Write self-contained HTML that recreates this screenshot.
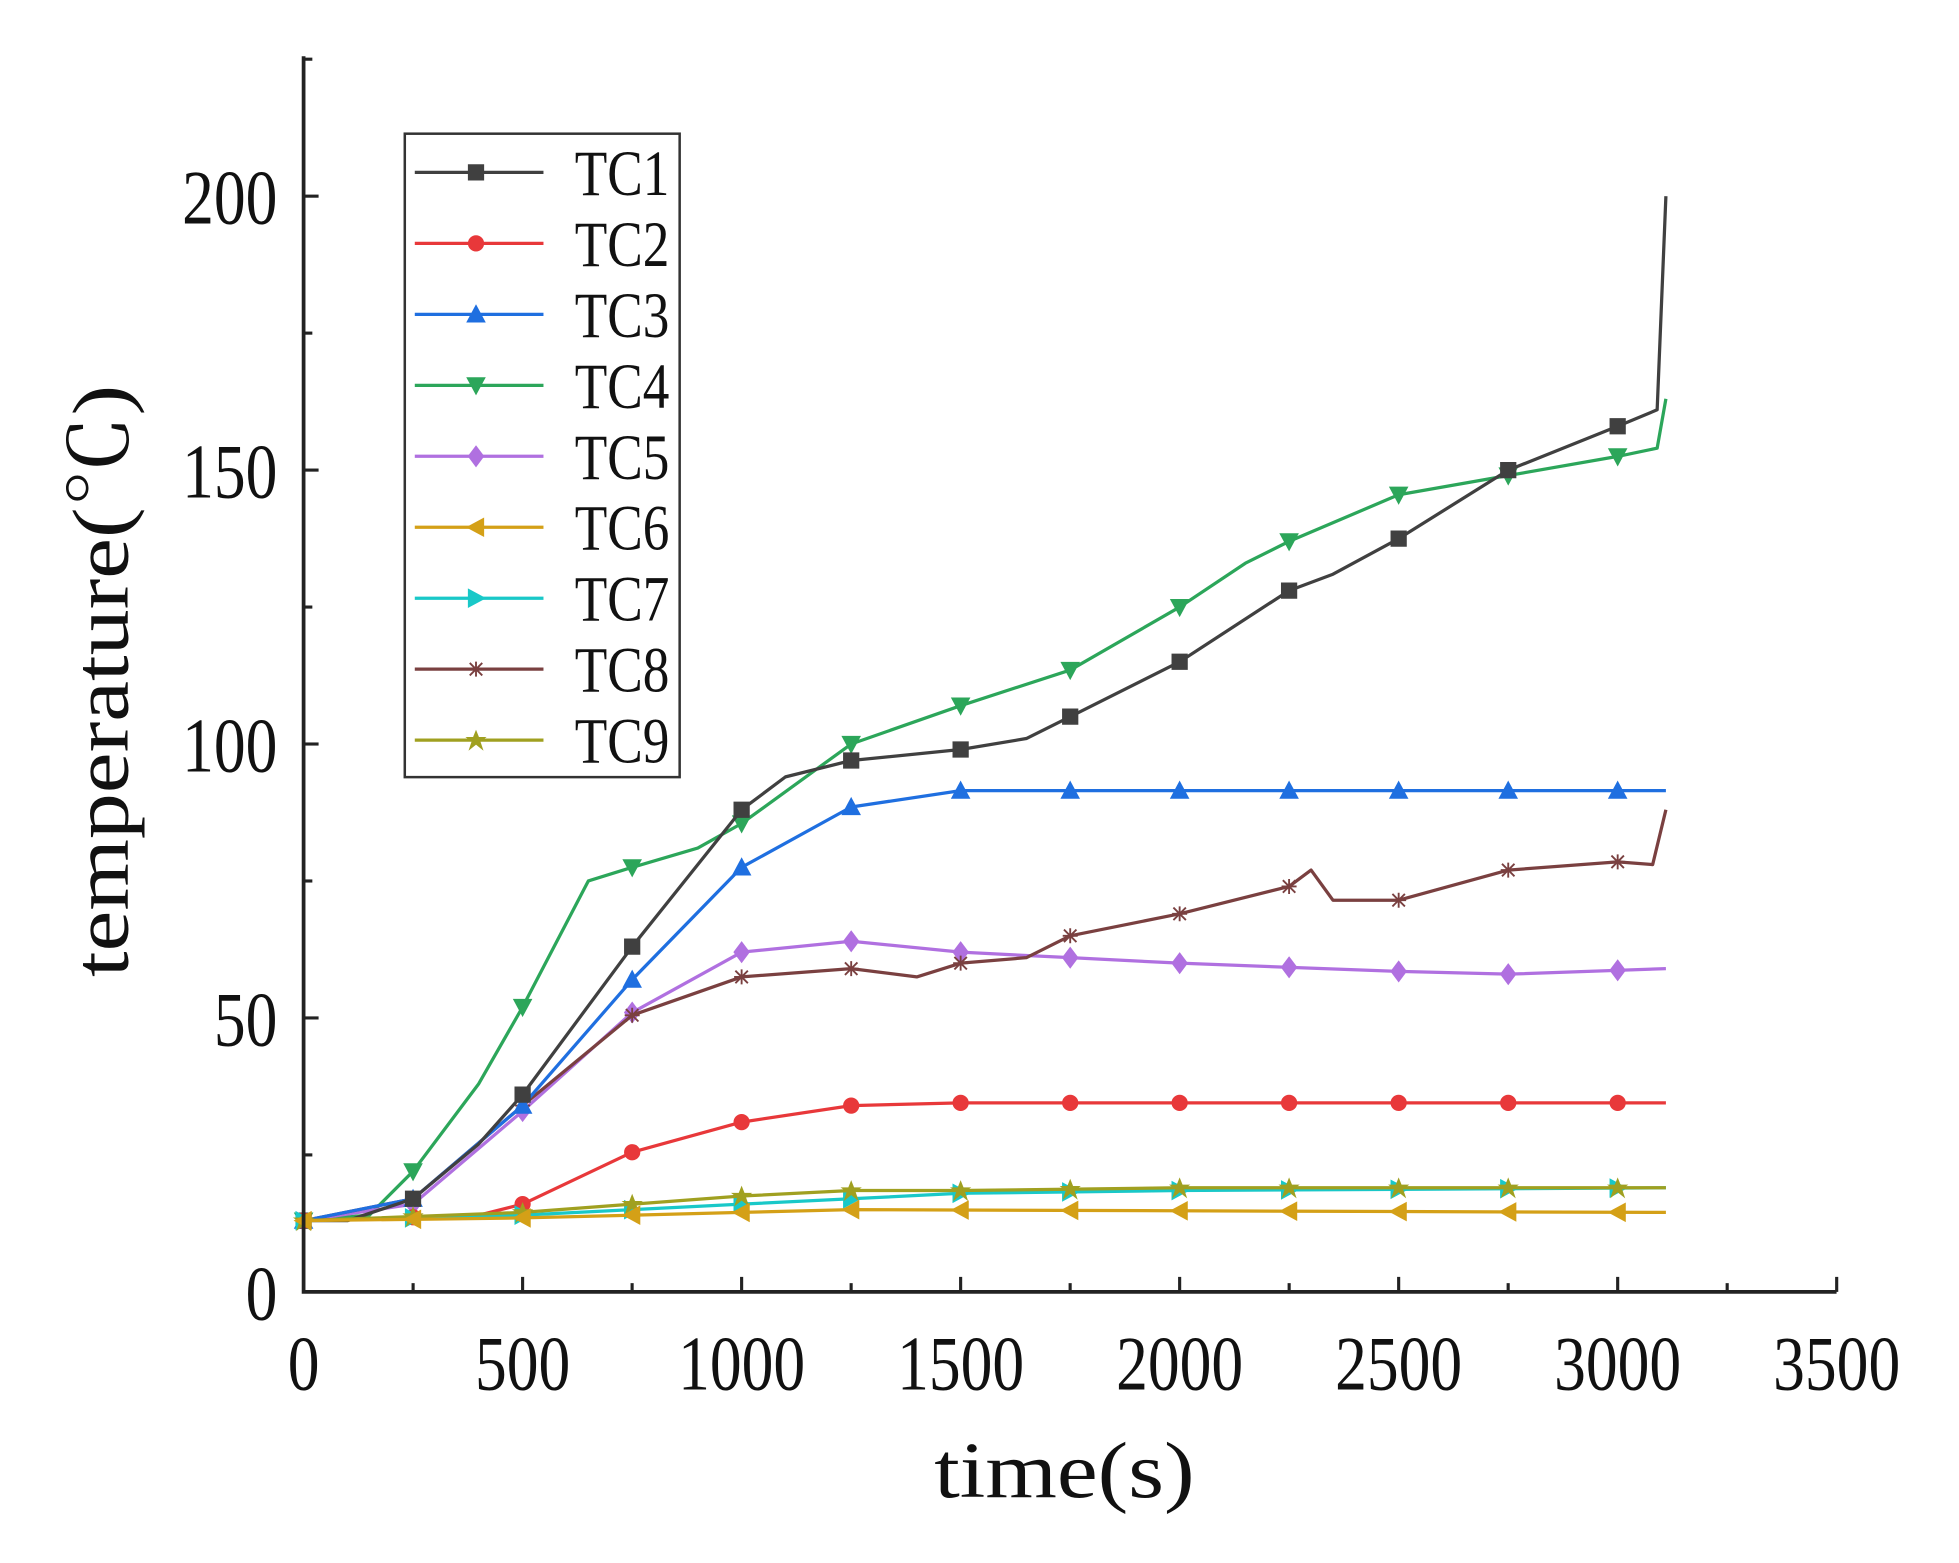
<!DOCTYPE html>
<html><head><meta charset="utf-8"><style>
html,body{margin:0;padding:0;background:#fff;}
svg{display:block;}
text{font-family:"Liberation Serif","Noto Serif CJK SC",serif;fill:#111;}
</style></head><body>
<svg id="c" width="1959" height="1563" viewBox="0 0 1568 1251" preserveAspectRatio="none" xmlns="http://www.w3.org/2000/svg">
<defs>
<path id="m1" d="M-6,-6h12v12h-12z"/>
<circle id="m2" r="6"/>
<path id="m3" d="M0,-7L7,6H-7z"/>
<path id="m4" d="M0,7L7,-6H-7z"/>
<path id="m5" d="M0,-8L6,0L0,8L-6,0z"/>
<path id="m6" d="M-7,0L6,-7V7z"/>
<path id="m7" d="M7,0L-6,-7V7z"/>
<path id="m8" d="M-6,0H6M0,-6V6M-5,-5L5,5M-5,5L5,-5" fill="none" stroke-width="1.5"/>
<path id="m9" d="M0,-7L2,-2L7,-2L3,1L5,7L0,3L-5,7L-3,1L-7,-2L-2,-2z"/>
</defs>
<g id="plot"></g>
<g stroke="#222" stroke-width="3" fill="none">
<path d="M243,45V1034H1470"/>
</g>
<g id="ticks" stroke="#222" stroke-width="2.5"></g>
<g id="labels"></g>
<rect x="324" y="107" width="220" height="515" fill="#fff" stroke="#333" stroke-width="2"/>
<g id="leg"></g>
</svg>
<script>
var X=t=>243+t*0.3506, Y=v=>1034-v*4.385;
var S=[
["#404040",[[0,13],[100,13],[250,17],[400,27],[500,36],[750,63],[1000,88],[1100,94],[1250,97],[1500,99],[1650,101],[1750,105],[2000,115],[2250,128],[2350,131],[2500,137.5],[2750,150],[3000,158],[3090,161],[3110,200]]],
["#e8383a",[[0,13],[400,14],[500,16],[750,25.5],[1000,31],[1250,34],[1500,34.5],[3110,34.5]]],
["#1f6fe0",[[0,13],[250,17],[500,34],[750,57],[1000,77.5],[1250,88.5],[1500,91.5],[3110,91.5]]],
["#2ca65a",[[0,13],[150,14],[250,22],[400,38],[500,52],[650,75],[750,77.5],[900,81],[1000,85.5],[1250,100],[1500,107],[1750,113.5],[2000,125],[2150,133],[2250,137],[2500,145.5],[2750,149],[3000,152.5],[3090,154],[3110,163]]],
["#b070e0",[[0,13],[250,16],[500,33],[750,51],[1000,62],[1250,64],[1500,62],[1750,61],[2000,60],[2500,58.5],[2750,58],[3110,59]]],
["#d4a017",[[0,13],[500,13.5],[1000,14.5],[1250,15],[3110,14.5]]],
["#19c8c8",[[0,13],[500,14],[750,15],[1000,16],[1250,17],[1500,18],[2000,18.5],[3110,19]]],
["#7a4040",[[0,13],[250,17],[500,34],[750,50.5],[1000,57.5],[1250,59],[1400,57.5],[1500,60],[1650,61],[1750,65],[2000,69],[2250,74],[2300,77],[2350,71.5],[2500,71.5],[2750,77],[3000,78.5],[3080,78],[3110,88]]],
["#a0a020",[[0,13],[500,14.5],[750,16],[1000,17.5],[1250,18.5],[1500,18.5],[2000,19],[3110,19]]]
];
function interp(d,t){for(var i=1;i<d.length;i++){if(t<=d[i][0]){var a=d[i-1],b=d[i];return a[1]+(b[1]-a[1])*(t-a[0])/(b[0]-a[0]);}}return d[d.length-1][1];}
var h="",order=[3,4,7,2,0,1,6,8,5];
order.forEach(function(k){var c=S[k][0],d=S[k][1];
h+='<polyline fill="none" stroke="'+c+'" stroke-width="2.6" stroke-linejoin="round" points="'+d.map(p=>X(p[0]).toFixed(1)+','+Y(p[1]).toFixed(1)).join(' ')+'"/>';
for(var t=0;t<=3000;t+=250){var v=interp(d,t);h+='<use href="#m'+(k+1)+'" x="'+X(t).toFixed(1)+'" y="'+Y(v).toFixed(1)+'" fill="'+c+'" stroke="'+c+'"/>';}
});
document.getElementById('plot').innerHTML=h;
var tk="";
for(var t=250;t<=3500;t+=250){var L=(t%500==0)?12:7;tk+='<line x1="'+X(t)+'" y1="1034" x2="'+X(t)+'" y2="'+(1034-L)+'"/>';}
for(var v=25;v<=225;v+=25){var L=(v%50==0)?12:7;tk+='<line x1="243" y1="'+Y(v)+'" x2="'+(243+L)+'" y2="'+Y(v)+'"/>';}
document.getElementById('ticks').innerHTML=tk;
function T(x,y,s,fs,anchor,sx,rot){return '<g transform="translate('+x+','+y+')'+(rot?' rotate(-90)':'')+' scale('+sx+',1)"><text font-size="'+fs+'" text-anchor="'+anchor+'">'+s+'</text></g>';}
var lb="";
for(var t=0;t<=3500;t+=500)lb+=T(X(t),1112,t,62,'middle',0.82);
for(var v=0;v<=200;v+=50)lb+=T(222,Y(v)+22,v,62,'end',0.82);
lb+=T(852,1198,'time(s)',64,'middle',1.15);
lb+=T(102,545,'temperature(℃)',64,'middle',1.15,true);
document.getElementById('labels').innerHTML=lb;
var lg="";
for(var i=0;i<9;i++){var y=138+i*56.8,c=S[i][0];
lg+='<line x1="332" y1="'+y+'" x2="435" y2="'+y+'" stroke="'+c+'" stroke-width="2.6"/><use href="#m'+(i+1)+'" x="381" y="'+y+'" fill="'+c+'" stroke="'+c+'"/>'+T(460,y+18,'TC'+(i+1),52,'start',0.82);}
document.getElementById('leg').innerHTML=lg;
</script>
</body></html>
